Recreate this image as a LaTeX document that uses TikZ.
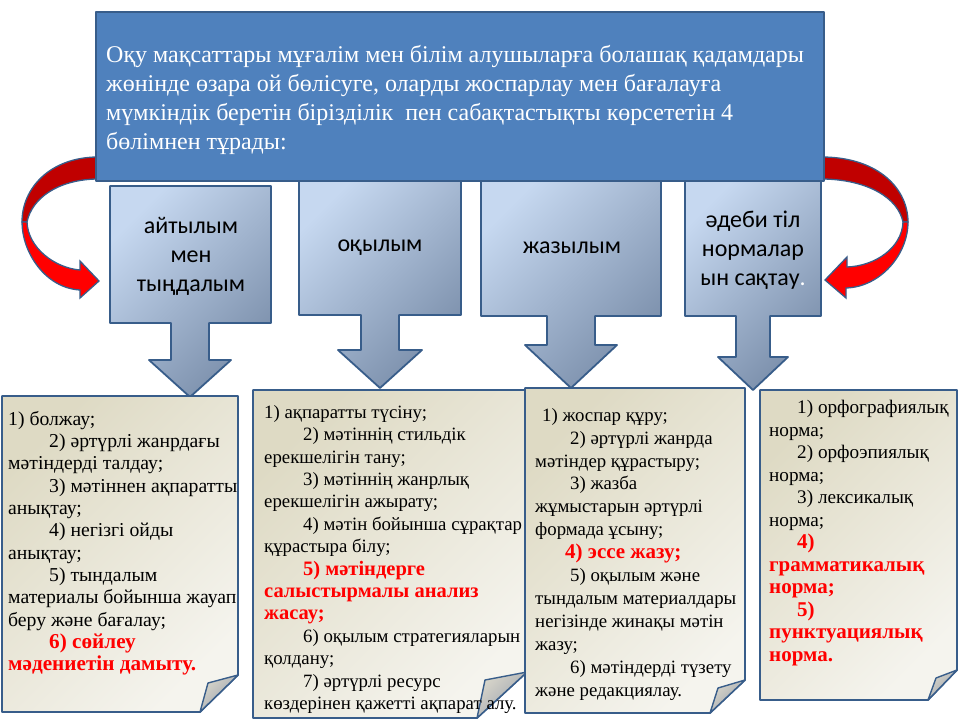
\documentclass[tikz,border=0pt]{standalone}
\usepackage{fontspec}
\setmainfont{Liberation Serif}
\newfontfamily\calfont{Carlito}
\usepackage{xcolor}
\usetikzlibrary{positioning}
\definecolor{topblue}{HTML}{4F81BD}
\definecolor{edgeblue}{HTML}{385D8A}
\definecolor{boxlight}{HTML}{C6D8F0}
\definecolor{boxdark}{HTML}{7A8EAA}
\definecolor{notelight}{HTML}{F5F4EE}
\definecolor{notedark}{HTML}{DEDAC4}
\definecolor{foldlight}{HTML}{DAD7CB}
\definecolor{folddark}{HTML}{98A0AC}
\definecolor{arrowred}{HTML}{FF0000}
\definecolor{arrowdark}{HTML}{C00000}
\newcommand{\redbold}[2][20.5]{{\color{red}\bfseries\fontsize{#1}{20}\selectfont #2}}

\begin{document}
\begin{tikzpicture}[x=1pt,y=-1pt,
    edgeline/.style={draw=edgeblue,line width=1.8pt,line join=round},
    tabbox/.style={edgeline,top color=boxlight,bottom color=boxdark,shading angle=45},
    notebox/.style={edgeline,top color=notedark,bottom color=notelight,shading angle=45},
    flap/.style={edgeline,line width=1.4pt,top color=foldlight,bottom color=folddark,shading angle=45},
    heading/.style={font=\calfont\fontsize{24}{29}\selectfont,align=center},
    listtext/.style={anchor=north west,inner sep=0pt,align=left}]
    \useasboundingbox (0,0) rectangle (960,720);
    % curved red arrows (tails under the top box)
    \filldraw[fill=arrowdark,draw=edgeblue,line width=1.3pt] (96,157) .. controls (50,158) and (22,188) .. (22,222)
        -- (27,222) .. controls (32,198) and (58,180) .. (96,179) -- cycle;
    \filldraw[fill=arrowred,draw=edgeblue,line width=1.3pt] (22,222) .. controls (22,252) and (45,288) .. (80,290)
        -- (80,298) -- (99,281) -- (80,261) -- (80,270) .. controls (55,268) and (28,248) .. (27,222) -- cycle;
    \filldraw[fill=arrowdark,draw=edgeblue,line width=1.3pt] (824,157) .. controls (880,158) and (908,190) .. (908,222)
        -- (903,222) .. controls (898,198) and (868,180) .. (824,179) -- cycle;
    \filldraw[fill=arrowred,draw=edgeblue,line width=1.3pt] (908,222) .. controls (908,255) and (880,287) .. (846,288)
        -- (846,298) -- (825,280) -- (847,257) -- (847,267) .. controls (875,266) and (902,248) .. (903,222) -- cycle;
    % four boxes with down arrows
    \foreach \xa/\xb/\ya/\yb/\c/\s/\h/\hy/\tip in {110/271/186/323/190/19/41/360/397,
        299/461/176/315/380/19/42/350/388, 481/661/176/316/571/24/46/345/388, 685/821/176/316/753/17/35/357/390}
        \draw[tabbox] (\xa,\ya) -- (\xb,\ya) -- (\xb,\yb) -- ({\c+\s},\yb) -- ({\c+\s},\hy) -- ({\c+\h},\hy)
            -- (\c,\tip) -- ({\c-\h},\hy) -- ({\c-\s},\hy) -- ({\c-\s},\yb) -- (\xa,\yb) -- cycle;
    % top box
    \draw[edgeline,fill=topblue] (96,12) rectangle (824,181);
    \node[listtext,text=white,font=\fontsize{24}{29}\selectfont] (goal) at (106,45)
        {Оқу мақсаттары мұғалім мен білім алушыларға болашақ қадамдары\\
         жөнінде өзара ой бөлісуге, оларды жоспарлау мен бағалауға\\
         мүмкіндік беретін бірізділік \ пен сабақтастықты көрсететін 4\\
         бөлімнен тұрады:};
    \node[heading] (speak) at (191,256) {айтылым\\мен\\тыңдалым};
    \node[heading] (read) at (380,248) {оқылым};
    \node[heading] (write) at (572,248) {жазылым};
    \node[heading] (norms) at (753,250) {әдеби тіл\\нормалар\\ын сақтау\textcolor{white}{.}};
    % paper notes with folded corner
    \foreach \xa/\ya/\xb/\yb/\yf/\xf in {2/396/238/712/675/200, 253/390/527/718/672/477,
        525/388/745/713/680/710, 760/390/957/700/670/928} {
        \draw[notebox] (\xa,\ya) -- (\xb,\ya) -- (\xb,\yf) -- (\xf,\yb) -- (\xa,\yb) -- cycle;
        \draw[flap] (\xb,\yf) -- ({\xf+8},{\yf+8}) -- (\xf,\yb) -- cycle;
    }
    \node[listtext,font=\fontsize{19.7}{22.3}\selectfont] (speaklist) at (8,411)
        {1) болжау;\\
         \hspace*{41pt}2) әртүрлі жанрдағы\\
         мәтіндерді талдау;\\
         \hspace*{41pt}3) мәтіннен ақпаратты\\
         анықтау;\\
         \hspace*{41pt}4) негізгі ойды\\
         анықтау;\\
         \hspace*{41pt}5) тындалым\\
         материалы бойынша жауап\\
         беру және бағалау;\\
         \hspace*{41pt}\redbold[21.2]{6) сөйлеу}\\
         \redbold[21.2]{мәдениетін дамыту.}};
    \node[listtext,font=\fontsize{18.8}{22.4}\selectfont] (readlist) at (264,405)
        {1) ақпаратты түсіну;\\
         \hspace*{39pt}2) мәтіннің стильдік\\
         ерекшелігін тану;\\
         \hspace*{39pt}3) мәтіннің жанрлық\\
         ерекшелігін ажырату;\\
         \hspace*{39pt}4) мәтін бойынша сұрақтар\\
         құрастыра білу;\\
         \hspace*{39pt}\redbold{5) мәтіндерге}\\
         \redbold{салыстырмалы анализ}\\
         \redbold{жасау;}\\
         \hspace*{39pt}6) оқылым стратегияларын\\
         қолдану;\\
         \hspace*{39pt}7) әртүрлі ресурс\\
         көздерінен қажетті ақпарат алу.};
    \node[listtext,font=\fontsize{18.8}{22.9}\selectfont] (writelist) at (535,408)
        {\hspace*{7pt}1) жоспар құру;\\
         \hspace*{35pt}2) әртүрлі жанрда\\
         мәтіндер құрастыру;\\
         \hspace*{35pt}3) жазба\\
         жұмыстарын әртүрлі\\
         формада ұсыну;\\
         \hspace*{30pt}\redbold[21]{4) эссе жазу;}\\
         \hspace*{35pt}5) оқылым және\\
         тындалым материалдары\\
         негізінде жинақы мәтін\\
         жазу;\\
         \hspace*{35pt}6) мәтіндерді түзету\\
         және редакциялау.};
    \node[listtext,font=\fontsize{19.2}{22.5}\selectfont] (normlist) at (769,400)
        {\hspace*{28pt}1) орфографиялық\\
         норма;\\
         \hspace*{28pt}2) орфоэпиялық\\
         норма;\\
         \hspace*{28pt}3) лексикалық\\
         норма;\\
         \hspace*{28pt}\redbold[21]{4)}\\
         \redbold[21]{грамматикалық}\\
         \redbold[21]{норма;}\\
         \hspace*{28pt}\redbold[21]{5)}\\
         \redbold[21]{пунктуациялық}\\
         \redbold[21]{норма.}};
\end{tikzpicture}
\end{document}
